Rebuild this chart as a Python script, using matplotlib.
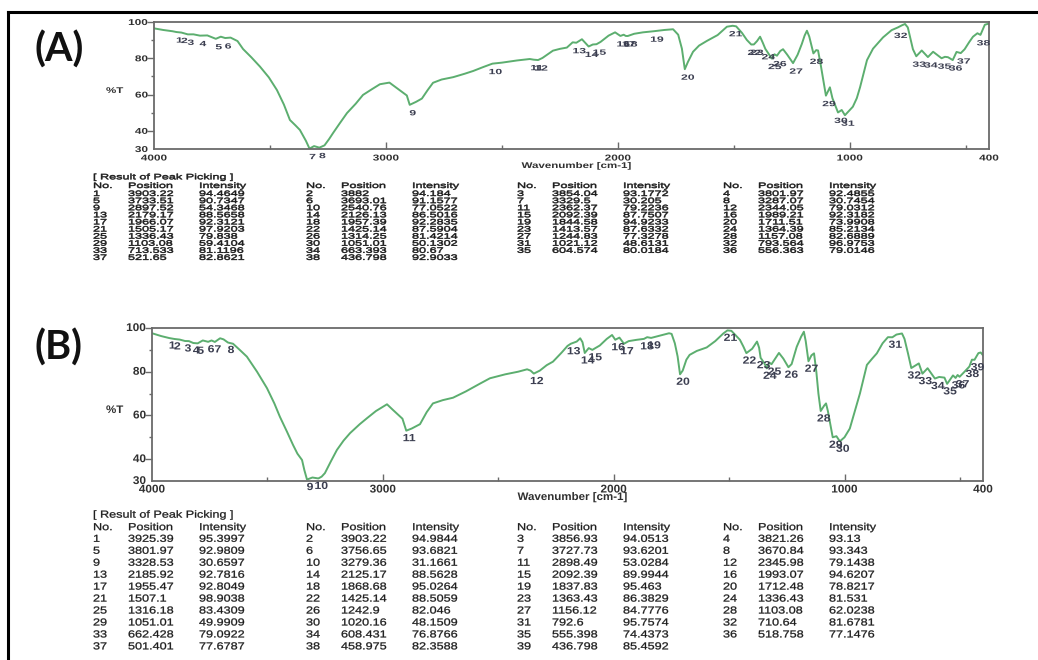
import matplotlib
matplotlib.use("Agg")
import numpy as np
import matplotlib.pyplot as plt
from matplotlib.patheffects import AbstractPathEffect
from matplotlib.transforms import Affine2D, Bbox, blended_transform_factory
from matplotlib.text import Text
from matplotlib.lines import Line2D

# ---------------- peak tables ----------------
a_peak_pos = [3903.22, 3882, 3854.04, 3801.97, 3733.51, 3693.01, 3329.5, 3287.07,
              2897.52, 2540.76, 2362.37, 2344.05, 2179.17, 2126.13, 2092.39, 1989.21,
              1966.07, 1957.39, 1844.58, 1711.51, 1505.17, 1425.14, 1413.57, 1364.39,
              1336.43, 1314.25, 1244.83, 1157.08, 1103.08, 1051.01, 1021.12, 793.564,
              713.533, 663.393, 604.574, 556.363, 521.65, 436.798]
a_peak_int = [94.4649, 94.184, 93.1772, 92.4855, 90.7347, 91.1577, 30.205, 30.7454,
              54.3468, 77.0522, 79.2236, 79.0312, 88.5658, 86.5016, 87.7507, 92.3182,
              92.3121, 92.2835, 94.9233, 73.9908, 97.9203, 87.5904, 87.6332, 85.2134,
              79.838, 81.4214, 77.3278, 82.6889, 59.4104, 50.1302, 48.6131, 96.9753,
              81.1196, 80.67, 80.0184, 79.0146, 82.8621, 92.9033]

b_peak_pos = [3925.39, 3903.22, 3856.93, 3821.26, 3801.97, 3756.65, 3727.73, 3670.84,
              3328.53, 3279.36, 2898.49, 2345.98, 2185.92, 2125.17, 2092.39, 1993.07,
              1955.47, 1868.68, 1837.83, 1712.48, 1507.1, 1425.14, 1363.43, 1336.43,
              1316.18, 1242.9, 1156.12, 1103.08, 1051.01, 1020.16, 792.6, 710.64,
              662.428, 608.431, 555.398, 518.758, 501.401, 458.975, 436.798]
b_peak_int = [95.3997, 94.9844, 94.0513, 93.13, 92.9809, 93.6821, 93.6201, 93.343,
              30.6597, 31.1661, 53.0284, 79.1438, 92.7816, 88.5628, 89.9944, 94.6207,
              92.8049, 95.0264, 95.463, 78.8217, 98.9038, 88.5059, 86.3829, 81.531,
              83.4309, 82.046, 84.7776, 62.0238, 49.9909, 48.1509, 95.7574, 81.6781,
              79.0922, 76.8766, 74.4373, 77.1476, 77.6787, 82.3588, 85.4592]

# Printed values exactly as listed in the instrument report
a_pos_text = ["3903.22", "3882", "3854.04", "3801.97", "3733.51", "3693.01", "3329.5",
              "3287.07", "2897.52", "2540.76", "2362.37", "2344.05", "2179.17", "2126.13",
              "2092.39", "1989.21", "1966.07", "1957.39", "1844.58", "1711.51", "1505.17",
              "1425.14", "1413.57", "1364.39", "1336.43", "1314.25", "1244.83", "1157.08",
              "1103.08", "1051.01", "1021.12", "793.564", "713.533", "663.393", "604.574",
              "556.363", "521.65", "436.798"]
a_int_text = ["94.4649", "94.184", "93.1772", "92.4855", "90.7347", "91.1577", "30.205",
              "30.7454", "54.3468", "77.0522", "79.2236", "79.0312", "88.5658", "86.5016",
              "87.7507", "92.3182", "92.3121", "92.2835", "94.9233", "73.9908", "97.9203",
              "87.5904", "87.6332", "85.2134", "79.838", "81.4214", "77.3278", "82.6889",
              "59.4104", "50.1302", "48.6131", "96.9753", "81.1196", "80.67", "80.0184",
              "79.0146", "82.8621", "92.9033"]
b_pos_text = ["3925.39", "3903.22", "3856.93", "3821.26", "3801.97", "3756.65", "3727.73",
              "3670.84", "3328.53", "3279.36", "2898.49", "2345.98", "2185.92", "2125.17",
              "2092.39", "1993.07", "1955.47", "1868.68", "1837.83", "1712.48", "1507.1",
              "1425.14", "1363.43", "1336.43", "1316.18", "1242.9", "1156.12", "1103.08",
              "1051.01", "1020.16", "792.6", "710.64", "662.428", "608.431", "555.398",
              "518.758", "501.401", "458.975", "436.798"]
b_int_text = ["95.3997", "94.9844", "94.0513", "93.13", "92.9809", "93.6821", "93.6201",
              "93.343", "30.6597", "31.1661", "53.0284", "79.1438", "92.7816", "88.5628",
              "89.9944", "94.6207", "92.8049", "95.0264", "95.463", "78.8217", "98.9038",
              "88.5059", "86.3829", "81.531", "83.4309", "82.046", "84.7776", "62.0238",
              "49.9909", "48.1509", "95.7574", "81.6781", "79.0922", "76.8766", "74.4373",
              "77.1476", "77.6787", "82.3588", "85.4592"]

# ---------------- spectrum points between the picked peaks ----------------
a_shape_wn = [4000, 3960, 3920, 3830, 3770, 3712, 3670, 3640, 3616, 3580, 3543, 3505,
              3470, 3440, 3414, 3390, 3371, 3345, 3310, 3265, 3245, 3228, 3200, 3168,
              3130, 3099, 3060, 3026, 2985, 2953, 2925, 2910, 2870, 2845, 2820, 2797,
              2760, 2710, 2660, 2624, 2580, 2500, 2435, 2380, 2325, 2280, 2250, 2220,
              2195, 2155, 2108, 2075, 2040, 2012, 1975, 1930, 1892, 1800, 1762, 1740,
              1724, 1698, 1676, 1650, 1616, 1570, 1530, 1490, 1465, 1444, 1400, 1387,
              1375, 1325, 1300, 1288, 1270, 1225, 1207, 1195, 1185, 1175, 1145, 1137,
              1125, 1086, 1075, 1035, 1000, 987, 970, 956, 940, 926, 900, 857, 820,
              775, 762, 750, 741, 728, 690, 641, 590, 577, 540, 505, 485, 469, 450,
              418, 404, 400]
a_shape_t = [96.5, 95.6, 94.9, 93.2, 92.6, 91.9, 91.4, 89.5, 85.1, 80.5, 75.4, 69.5,
             62.5, 54.5, 46.0, 43.0, 40.5, 34.5, 31.6, 32.0, 35.5, 38.8, 44.0, 49.8,
             55.0, 59.8, 63.0, 65.7, 66.6, 63.6, 61.0, 59.5, 56.0, 57.8, 62.5, 66.5,
             68.3, 69.6, 71.5, 73.0, 75.2, 77.6, 78.8, 79.6, 80.2, 84.2, 85.2, 85.9,
             88.8, 90.5, 87.6, 89.0, 92.5, 94.3, 93.0, 93.5, 94.3, 95.6, 96.0, 93.0,
             85.3, 78.0, 83.6, 87.0, 89.6, 92.8, 97.4, 97.6, 94.0, 90.1, 89.5, 91.9,
             88.5, 82.2, 84.0, 85.0, 82.0, 82.0, 87.9, 92.5, 95.2, 92.0, 84.5, 84.3,
             76.0, 64.0, 58.0, 51.5, 51.5, 53.3, 58.0, 64.0, 72.0, 79.0, 85.3, 91.5,
             95.5, 98.2, 98.9, 97.0, 92.0, 85.0, 84.3, 83.6, 80.8, 80.6, 83.5, 85.0,
             89.0, 91.9, 93.8, 98.5, 99.0, 98.8]

b_shape_wn = [4000, 3960, 3880, 3840, 3780, 3742, 3705, 3690, 3649, 3620, 3589, 3545,
              3502, 3470, 3446, 3415, 3389, 3370, 3350, 3340, 3305, 3265, 3251, 3225,
              3199, 3170, 3142, 3100, 3069, 3030, 2982, 2956, 2930, 2915, 2875, 2839,
              2810, 2783, 2740, 2696, 2640, 2580, 2536, 2470, 2414, 2375, 2360, 2320,
              2290, 2263, 2225, 2200, 2160, 2145, 2135, 2108, 2060, 2030, 2007, 1975,
              1935, 1900, 1855, 1800, 1760, 1749, 1735, 1723, 1701, 1685, 1671, 1640,
              1597, 1560, 1525, 1490, 1470, 1453, 1438, 1400, 1379, 1370, 1348, 1326,
              1284, 1265, 1229, 1207, 1188, 1176, 1168, 1143, 1132, 1122, 1113, 1088,
              1080, 1072, 1060, 1035, 1000, 977, 955, 933, 903, 880, 860, 835, 812,
              775, 751, 740, 725, 678, 640, 590, 567, 530, 510, 480, 448, 420, 410,
              400]
b_shape_t = [97.6, 96.3, 94.7, 94.0, 94.3, 94.3, 95.3, 94.8, 92.8, 90.0, 86.9, 80.0,
             72.5, 65.5, 59.4, 52.5, 46.5, 42.5, 39.6, 35.0, 31.6, 32.0, 33.6, 39.0,
             44.2, 48.5, 51.9, 56.0, 58.7, 62.0, 65.1, 62.5, 60.0, 58.5, 54.0, 56.0,
             61.5, 65.5, 67.0, 68.1, 71.0, 74.5, 77.0, 78.8, 80.0, 81.1, 80.5, 80.5,
             83.0, 84.6, 88.8, 91.8, 93.8, 95.3, 93.5, 90.8, 92.0, 95.0, 96.8, 95.6,
             94.0, 94.6, 95.8, 96.5, 97.6, 97.3, 93.0, 87.0, 80.5, 85.5, 87.7, 89.5,
             91.1, 94.0, 97.5, 98.7, 96.5, 94.6, 91.5, 90.5, 93.8, 91.0, 84.0, 84.2,
             88.6, 86.0, 83.5, 91.4, 96.0, 98.3, 94.0, 87.5, 88.4, 80.0, 70.0, 64.5,
             65.5, 62.0, 55.0, 50.5, 50.0, 54.0, 62.0, 70.1, 83.1, 86.0, 88.4, 93.0,
             95.8, 97.0, 97.5, 95.0, 88.4, 83.8, 81.6, 77.6, 77.3, 78.3, 78.5, 80.0,
             85.5, 88.5, 88.8, 87.5]

x_tick_values = [4000, 3000, 2000, 1000, 400]
y_tick_values = [100, 80, 60, 40, 30]

# ---------------- layout helpers ----------------
W, H = 1038, 660
fig = plt.figure(figsize=(W / 100, H / 100), dpi=100)
fig.patch.set_facecolor("white")


def fx(px):
    return px / W


def fy(py):
    return 1 - py / H


class Squash(AbstractPathEffect):
    """Draw glyphs compressed vertically about their baseline, optionally
    thickened with a thin outline of the same colour."""

    def __init__(self, sy, lw=0.0):
        super().__init__()
        self.sy = sy
        self.lw = lw

    def draw_path(self, renderer, gc, tpath, affine, rgbFace=None):
        tr = Affine2D().scale(1.0, self.sy) + affine
        if self.lw and rgbFace is not None:
            gc0 = renderer.new_gc()
            gc0.copy_properties(gc)
            gc0.set_linewidth(self.lw)
            gc0.set_foreground(rgbFace)
            renderer.draw_path(gc0, tpath, tr, rgbFace)
            gc0.restore()
        else:
            renderer.draw_path(gc, tpath, tr, rgbFace)


class SquashedText(Text):
    """Single-line text whose glyphs are compressed vertically; the reported
    extent follows the compressed ink rather than the full line box."""

    def __init__(self, *args, squash=1.0, stroke=0.0, **kwargs):
        super().__init__(*args, **kwargs)
        self._squash = squash
        self.set_path_effects([Squash(squash, stroke)])

    def get_window_extent(self, renderer=None, dpi=None):
        bb = super().get_window_extent(renderer, dpi)
        r = self._renderer
        if r is None or not self.get_text():
            return bb
        prop = self.get_fontproperties()
        _, h, d = r.get_text_width_height_descent(self.get_text(), prop, ismath=False)
        _, _, lp_d = r.get_text_width_height_descent("lp", prop, ismath=False)
        base = bb.y0 + max(d, lp_d)
        s = self._squash
        return Bbox.from_extents(bb.x0, base - d * s, bb.x1, base + (h - d) * s)


def add_text(px, py, s, squash, stroke=0.0, **kw):
    t = SquashedText(fx(px), fy(py), s, squash=squash, stroke=stroke,
                     transform=fig.transFigure, **kw)
    t.set_figure(fig)
    fig.texts.append(t)
    return t


CURVE = "#5cae6f"
LABEL = "#3b3e50"
TEXT = "#1c1c1c"
DARK = "#303030"
SPINE = "#6a6a6a"
FONT = "Liberation Sans"
TABLE_SIZE = 9.1
CAP = 0.716 * TABLE_SIZE * 100 / 72


def draw_panel(ax, shape_wn, shape_t, pk_wn, pk_t, sy, tick_sy):
    wn = np.concatenate([shape_wn, pk_wn])
    tr = np.concatenate([shape_t, pk_t])
    order = np.argsort(-wn)
    ax.plot(wn[order], tr[order], color=CURVE, lw=1.4, solid_joinstyle="round")
    ax.set_xlim(4000, 400)
    ax.set_ylim(30, 100)
    for s in ax.spines.values():
        s.set_color(SPINE)
        s.set_linewidth(1.3)
    ax.set_xticks([3000, 2000, 1000])
    ax.set_xticks([3500, 2500, 1500, 500], minor=True)
    ax.set_yticks([40, 60, 80, 100])
    ax.set_yticks([50, 70, 90], minor=True)
    ax.tick_params(axis="x", which="major", direction="in", length=5, width=1, color=SPINE)
    ax.tick_params(axis="x", which="minor", direction="in", length=3, width=1, color=SPINE)
    ax.tick_params(axis="y", which="major", direction="out", length=5, width=1, color=SPINE)
    ax.tick_params(axis="y", which="minor", direction="out", length=2.5, width=1, color=SPINE)
    ax.tick_params(labelbottom=False, labelleft=False)

    bx = blended_transform_factory(ax.transData, ax.transAxes)
    by = blended_transform_factory(ax.transAxes, ax.transData)
    for v in x_tick_values:
        ax.annotate(str(v), xy=(v, 0), xycoords=bx, xytext=(0, -8.5),
                    textcoords="offset pixels", ha="center", va="center",
                    fontsize=8.5, fontweight="bold", family=FONT, color=DARK,
                    annotation_clip=False, path_effects=[Squash(tick_sy)])
    for v in y_tick_values:
        ax.annotate(str(v), xy=(0, v), xycoords=by, xytext=(-6, 0),
                    textcoords="offset pixels", ha="right", va="center",
                    fontsize=8.5, fontweight="bold", family=FONT, color=DARK,
                    annotation_clip=False, path_effects=[Squash(tick_sy)])
    ax.annotate("Wavenumber [cm-1]", xy=(0.5, 0), xycoords="axes fraction",
                xytext=(5, -16), textcoords="offset pixels", ha="center", va="center",
                fontsize=8.3, fontweight="bold", family=FONT, color=DARK,
                annotation_clip=False, path_effects=[Squash(tick_sy)])

    for i, (p, t) in enumerate(zip(pk_wn, pk_t), start=1):
        ax.annotate(str(i), xy=(p, t), xytext=(3, -7.5), textcoords="offset pixels",
                    ha="center", va="center", fontsize=8.8, fontweight="bold",
                    family=FONT, color=LABEL, annotation_clip=False,
                    path_effects=[Squash(sy)])


def draw_table(nums, pos_txt, int_txt, y_title, y_head, y_row0, dy, sy, lw):
    base = CAP * sy / 2  # baseline lies below the visual centre of a row
    kw = dict(fontsize=TABLE_SIZE, family=FONT, color=TEXT, ha="left", va="baseline")
    add_text(93, y_title + base, "[ Result of Peak Picking ]", sy, lw, **kw)
    cols = [93, 306, 517, 723]
    for c in cols:
        add_text(c, y_head + base, "No.", sy, lw, **kw)
        add_text(c + 35, y_head + base, "Position", sy, lw, **kw)
        add_text(c + 106, y_head + base, "Intensity", sy, lw, **kw)
    for k, n in enumerate(nums):
        r, g = divmod(k, 4)
        y = y_row0 + r * dy + base
        c = cols[g]
        add_text(c, y, str(n), sy, lw, **kw)
        add_text(c + 35, y, pos_txt[k], sy, lw, **kw)
        add_text(c + 106, y, int_txt[k], sy, lw, **kw)


# ---------------- panel A ----------------
axA = fig.add_axes([fx(154), fy(149), (989 - 154) / W, (149 - 22) / H])
draw_panel(axA, np.array(a_shape_wn, float), np.array(a_shape_t, float),
           np.array(a_peak_pos), np.array(a_peak_int), sy=0.62, tick_sy=0.72)
fig.text(fx(106), fy(90), "%T", fontsize=8.3, fontweight="bold", family=FONT,
         color=DARK, va="center", path_effects=[Squash(0.72)])
fig.text(fx(34), fy(50), "(A)", fontsize=28.5, fontweight="bold", family="Lato",
         color="#111111", va="center")
draw_table(list(range(1, len(a_peak_pos) + 1)), a_pos_text, a_int_text,
           176.5, 185.2, 193.2, 7.1, 0.62, 0.35)

# ---------------- panel B ----------------
axB = fig.add_axes([fx(152), fy(481), (983 - 152) / W, (481 - 328) / H])
draw_panel(axB, np.array(b_shape_wn, float), np.array(b_shape_t, float),
           np.array(b_peak_pos), np.array(b_peak_int), sy=0.85, tick_sy=0.95)
fig.text(fx(106), fy(410), "%T", fontsize=8.3, fontweight="bold", family=FONT,
         color=DARK, va="center", path_effects=[Squash(0.95)])
fig.text(fx(34), fy(348), "(B)", fontsize=28.5, fontweight="bold", family="Lato",
         color="#111111", va="center")
draw_table(list(range(1, len(b_peak_pos) + 1)), b_pos_text, b_int_text,
           514, 526.5, 538.2, 11.95, 0.8, 0.2)

# ---------------- outer frame ----------------
fig.add_artist(Line2D([fx(8), fx(8)], [fy(12), 0], color="black", lw=2.2,
                      transform=fig.transFigure))
fig.add_artist(Line2D([fx(8), 1], [fy(12), fy(12)], color="black", lw=2.2,
                      transform=fig.transFigure))

fig.savefig("out.png", dpi=100, facecolor="white")
